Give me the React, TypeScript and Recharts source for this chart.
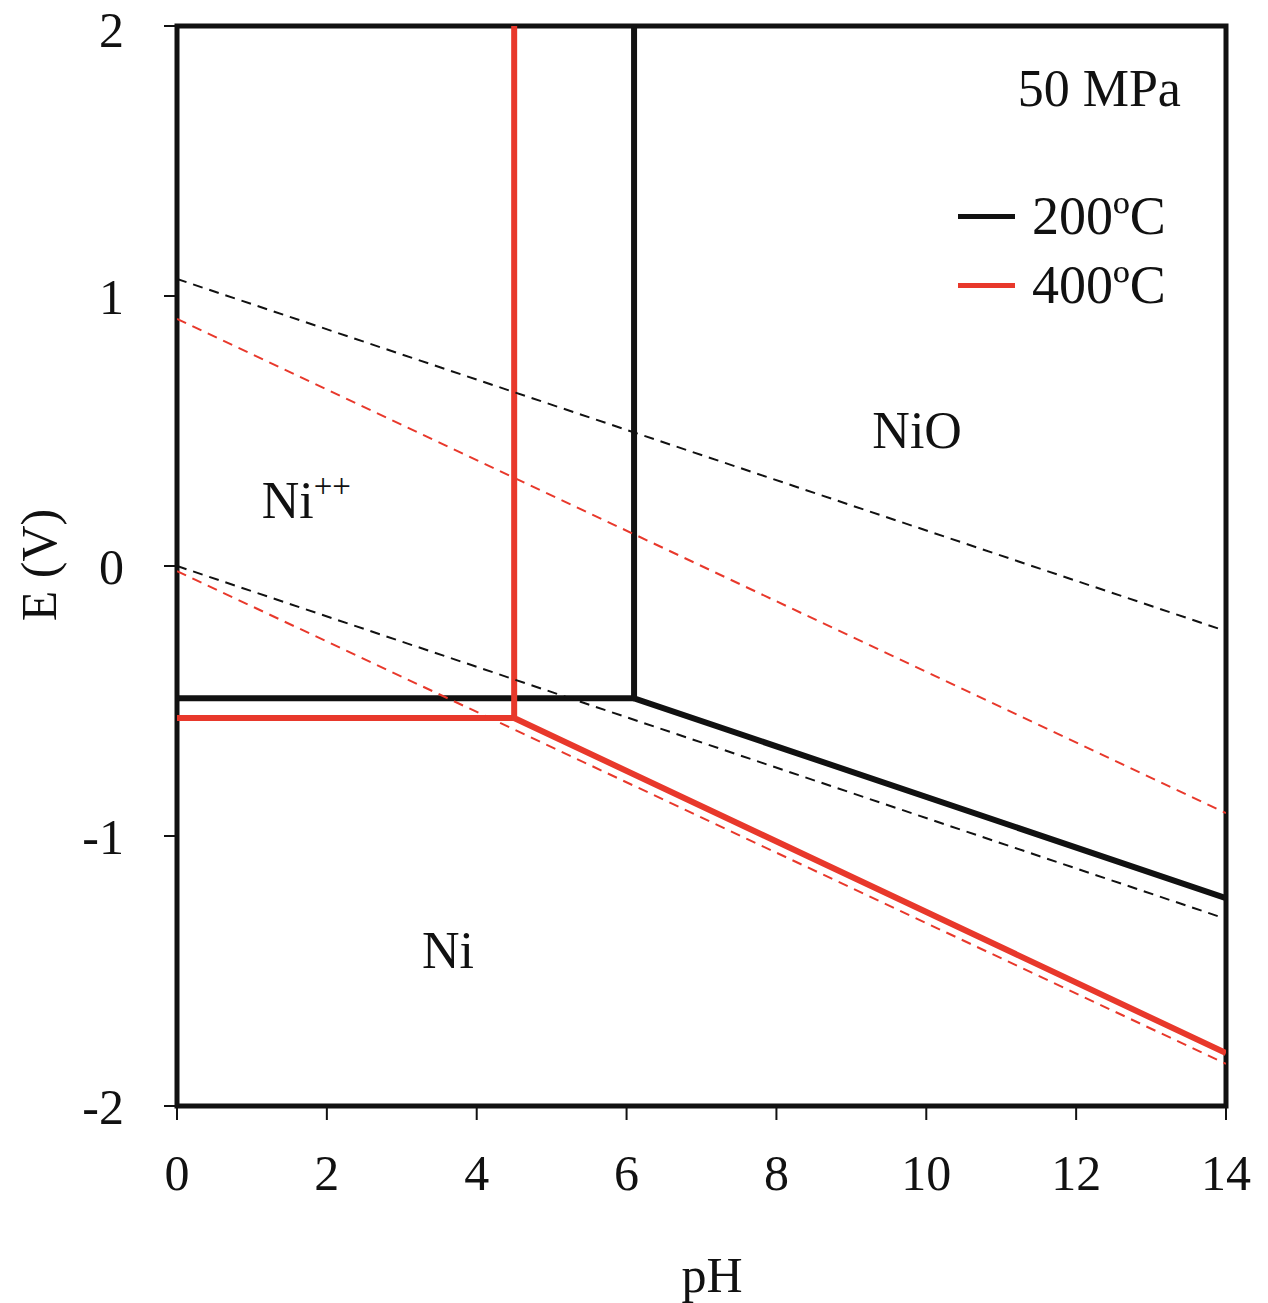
import React from 'react';
import {
  LineChart,
  Line,
  XAxis,
  YAxis,
  ReferenceArea,
  ReferenceDot,
} from 'recharts';

// Pourbaix (E-pH) diagram for nickel at 50 MPa
const phTicks = [0, 2, 4, 6, 8, 10, 12, 14];
const eTicks = [-2, -1, 0, 1, 2];

// 200 ºC stability boundaries
const ni200Floor = [
  { pH: 0, E: -0.49 },
  { pH: 6.1, E: -0.49 },
];
const ni200Oxide = [
  { pH: 6.1, E: 2 },
  { pH: 6.1, E: -0.49 },
  { pH: 14, E: -1.23 },
];

// 400 ºC stability boundaries
const ni400Floor = [
  { pH: 0, E: -0.563 },
  { pH: 4.5, E: -0.563 },
];
const ni400Oxide = [
  { pH: 4.5, E: 2 },
  { pH: 4.5, E: -0.563 },
  { pH: 14, E: -1.804 },
];

// water stability lines (O2/H2O upper, H2O/H2 lower)
const water200Upper = [
  { pH: 0, E: 1.063 },
  { pH: 14, E: -0.241 },
];
const water200Lower = [
  { pH: 0, E: 0.0 },
  { pH: 14, E: -1.307 },
];
const water400Upper = [
  { pH: 0, E: 0.915 },
  { pH: 14, E: -0.915 },
];
const water400Lower = [
  { pH: 0, E: -0.019 },
  { pH: 14, E: -1.844 },
];

const legendItems = [
  { name: '200ºC', color: '#111111' },
  { name: '400ºC', color: '#e8382b' },
];

const FONT = '"Liberation Serif", "Times New Roman", serif';
const BLACK = '#111111';
const RED = '#e8382b';

const NoteLabel = (props: any) => {
  const { viewBox, text, sup } = props;
  const x = viewBox ? viewBox.x + (viewBox.width || 0) / 2 : 0;
  const y = viewBox ? viewBox.y + (viewBox.height || 0) / 2 : 0;
  return (
    <text x={x} y={y} fontFamily={FONT} fontSize={52} fill={BLACK} textAnchor="start">
      {text}
      {sup && (
        <tspan fontSize={33} dy={-21}>
          {sup}
        </tspan>
      )}
    </text>
  );
};

const LegendBox = () => (
  <div style={{ position: 'absolute', left: 958, top: 182, fontFamily: FONT, color: BLACK }}>
    {legendItems.map((item) => (
      <div key={item.name} style={{ display: 'flex', alignItems: 'center', height: 69 }}>
        <span style={{ display: 'inline-block', width: 57, height: 5, background: item.color }} />
        <span style={{ marginLeft: 17, fontSize: 54, lineHeight: '69px' }}>{item.name}</span>
      </div>
    ))}
  </div>
);

const solid = { strokeWidth: 6, dot: false, isAnimationActive: false, legendType: 'none' as const };
const dashed = {
  strokeWidth: 2,
  strokeDasharray: '10 7',
  dot: false,
  isAnimationActive: false,
  legendType: 'none' as const,
};

export default function App() {
  return (
    <div style={{ position: 'absolute', left: 0, top: 0, width: 1268, height: 1303, background: '#fff' }}>
      <LineChart width={1268} height={1303} margin={{ top: 26, right: 42, left: 0, bottom: 0 }}>
        <XAxis
          type="number"
          dataKey="pH"
          domain={[0, 14]}
          ticks={phTicks}
          allowDataOverflow
          height={197}
          axisLine={false}
          tickSize={14}
          tickMargin={34}
          tickLine={{ stroke: BLACK, strokeWidth: 2 }}
          tick={{ fontFamily: FONT, fontSize: 50, fill: BLACK }}
          label={() => (
            <text x={712} y={1292} textAnchor="middle" fontFamily={FONT} fontSize={50} fill={BLACK}>
              pH
            </text>
          )}
        />
        <YAxis
          type="number"
          dataKey="E"
          domain={[-2, 2]}
          ticks={eTicks}
          allowDataOverflow
          width={177}
          axisLine={false}
          tickSize={13}
          tickMargin={40}
          tickLine={{ stroke: BLACK, strokeWidth: 2 }}
          tick={{ fontFamily: FONT, fontSize: 50, fill: BLACK }}
          label={() => (
            <text
              x={56}
              y={565}
              transform="rotate(-90 56 565)"
              textAnchor="middle"
              fontFamily={FONT}
              fontSize={50}
              fill={BLACK}
            >
              E (V)
            </text>
          )}
        />
        <ReferenceArea x1={0} x2={14} y1={-2} y2={2} fill="none" stroke={BLACK} strokeWidth={5} />

        <Line data={ni200Floor} dataKey="E" stroke={BLACK} {...solid} />
        <Line data={ni200Oxide} dataKey="E" stroke={BLACK} {...solid} />
        <Line data={ni400Floor} dataKey="E" stroke={RED} {...solid} />
        <Line data={ni400Oxide} dataKey="E" stroke={RED} {...solid} />

        <Line data={water200Upper} dataKey="E" stroke={BLACK} {...dashed} />
        <Line data={water200Lower} dataKey="E" stroke={BLACK} {...dashed} />
        <Line data={water400Upper} dataKey="E" stroke={RED} {...dashed} />
        <Line data={water400Lower} dataKey="E" stroke={RED} {...dashed} />

        <ReferenceDot x={11.22} y={1.705} r={0} fill="none" stroke="none" label={<NoteLabel text="50 MPa" />} />
        <ReferenceDot x={9.28} y={0.437} r={0} fill="none" stroke="none" label={<NoteLabel text="NiO" />} />
        <ReferenceDot x={1.13} y={0.178} r={0} fill="none" stroke="none" label={<NoteLabel text="Ni" sup="++" />} />
        <ReferenceDot x={3.27} y={-1.49} r={0} fill="none" stroke="none" label={<NoteLabel text="Ni" />} />
      </LineChart>
      <LegendBox />
    </div>
  );
}
